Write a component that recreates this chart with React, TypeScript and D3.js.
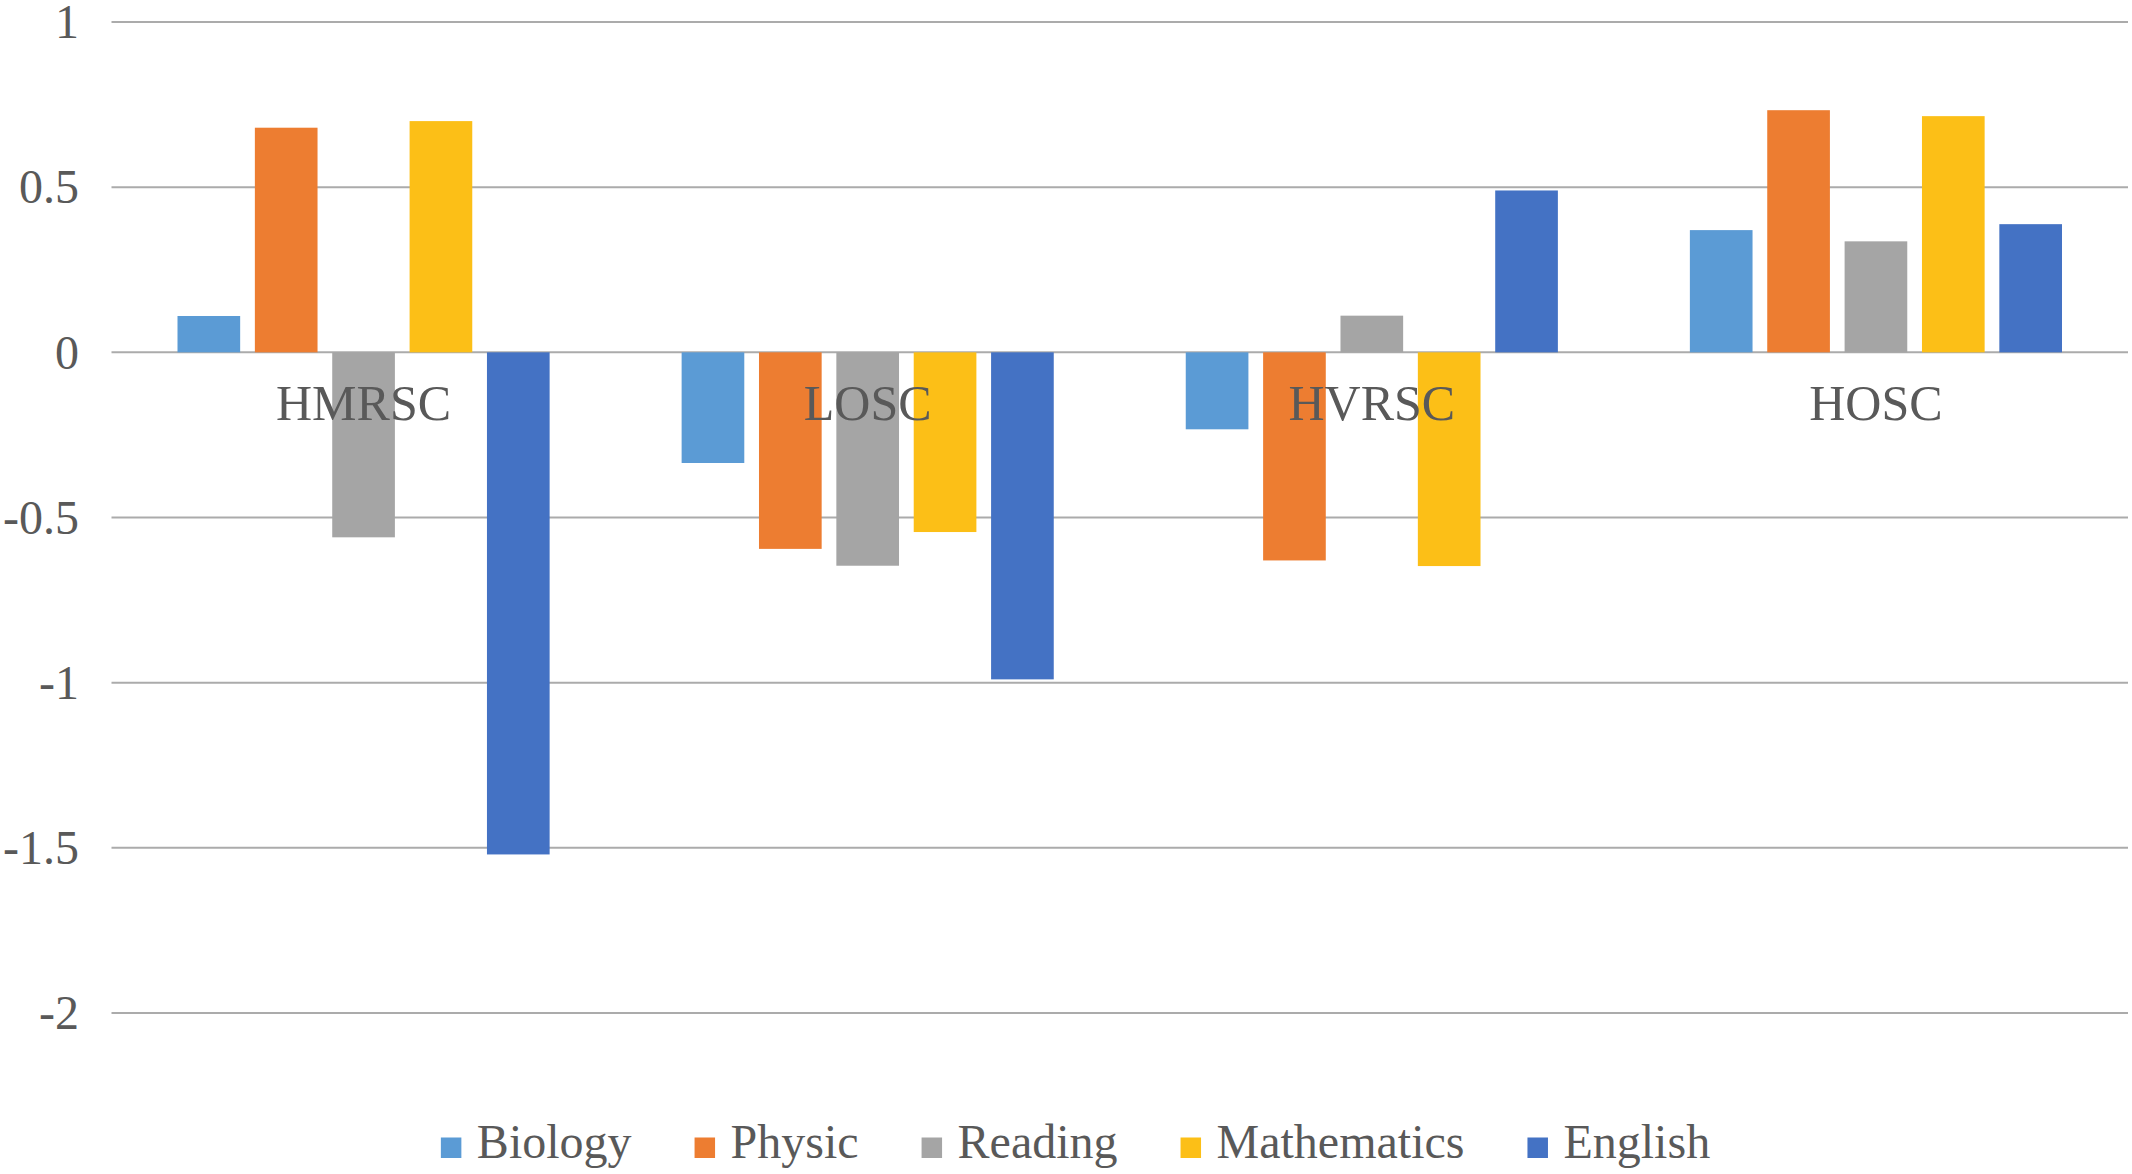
import { useEffect, useRef } from 'react';
import * as d3 from 'd3';

const categories = ['HMRSC', 'LOSC', 'HVRSC', 'HOSC'];
const subjects = ['Biology', 'Physic', 'Reading', 'Mathematics', 'English'];

const biology = [0.11, -0.335, -0.233, 0.37];
const physic = [0.68, -0.595, -0.63, 0.733];
const reading = [-0.56, -0.646, 0.111, 0.336];
const mathematics = [0.7, -0.544, -0.647, 0.715];
const english = [-1.52, -0.99, 0.49, 0.388];

const yTicks = [1, 0.5, 0, -0.5, -1, -1.5, -2];
const colors = ['#5B9BD5', '#ED7D31', '#A5A5A5', '#FCBF17', '#4472C4'];

const W = 2132;
const H = 1174;
const FONT = '"Liberation Serif", "Times New Roman", serif';
const TEXT = '#595959';

export default function App() {
  const svgRef = useRef<SVGSVGElement>(null);

  useEffect(() => {
    document.body.style.margin = '0';
    if (!svgRef.current) return;
    const svg = d3.select(svgRef.current);
    svg.selectAll('*').remove();

    const series = [biology, physic, reading, mathematics, english];
    const data = categories.map((cat, i) => ({
      cat,
      values: subjects.map((s, j) => ({ subject: s, value: series[j][i], color: colors[j] })),
    }));

    const x0 = d3.scaleBand().domain(categories).range([111.5, 2128]).padding(0);
    const x1 = d3.scaleBand()
      .domain(subjects)
      .range([66, x0.bandwidth() - 66])
      .paddingInner(0.19)
      .paddingOuter(0);
    const y = d3.scaleLinear().domain([-2, 1]).range([1013, 22]);

    // grid lines
    svg.append('g')
      .selectAll('line')
      .data(yTicks)
      .join('line')
      .attr('x1', 111.5)
      .attr('x2', 2128)
      .attr('y1', d => y(d))
      .attr('y2', d => y(d))
      .attr('stroke', '#ABABAB')
      .attr('stroke-width', 2);

    // y labels
    svg.append('g')
      .selectAll('text')
      .data(yTicks)
      .join('text')
      .attr('x', 79)
      .attr('y', d => y(d))
      .attr('dy', '0.34em')
      .attr('text-anchor', 'end')
      .style('font-family', FONT)
      .style('font-size', '48px')
      .style('fill', TEXT)
      .text(d => String(d));

    // bars
    const groups = svg.append('g')
      .selectAll('g')
      .data(data)
      .join('g')
      .attr('transform', d => `translate(${x0(d.cat)},0)`);

    groups.selectAll('rect')
      .data(d => d.values)
      .join('rect')
      .attr('x', d => x1(d.subject) || 0)
      .attr('width', x1.bandwidth())
      .attr('y', d => Math.min(y(d.value), y(0)))
      .attr('height', d => Math.abs(y(d.value) - y(0)))
      .attr('fill', d => d.color);

    // category labels sit on top of the bars
    svg.append('g')
      .selectAll('text')
      .data(categories)
      .join('text')
      .attr('x', d => (x0(d) || 0) + x0.bandwidth() / 2)
      .attr('y', y(0) + 68)
      .attr('text-anchor', 'middle')
      .style('font-family', FONT)
      .style('font-size', '50px')
      .style('fill', TEXT)
      .text(d => d);

    // legend
    const legend = svg.append('g');
    const baseline = 1158;
    const sq = 20.5;
    const items = legend.selectAll('g')
      .data(subjects)
      .join('g');
    items.append('rect')
      .attr('width', sq)
      .attr('height', sq)
      .attr('y', baseline - sq)
      .attr('fill', (_, i) => colors[i]);
    const labels = items.append('text')
      .attr('x', 36)
      .attr('y', baseline)
      .style('font-family', FONT)
      .style('font-size', '48px')
      .style('fill', TEXT)
      .text(d => d);

    const widths: number[] = [];
    labels.each(function () {
      widths.push((this as SVGTextElement).getComputedTextLength());
    });
    const gap = 63;
    const total = d3.sum(widths.map(w => 36 + w)) + gap * (widths.length - 1);
    let cursor = 1075.5 - total / 2;
    items.attr('transform', (_, i) => {
      const t = `translate(${cursor},0)`;
      cursor += 36 + widths[i] + gap;
      return t;
    });
  }, []);

  return (
    <svg ref={svgRef} width={W} height={H} style={{ display: 'block', background: '#fff' }} />
  );
}
